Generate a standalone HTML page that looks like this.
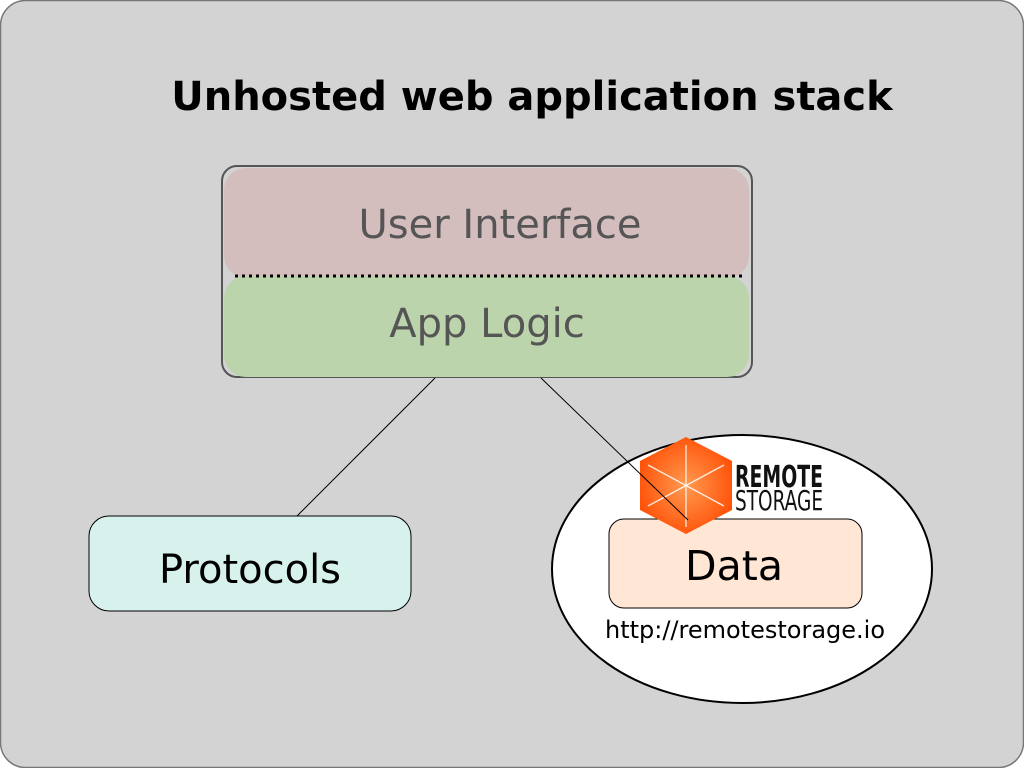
<!DOCTYPE html>
<html><head><style>html,body{margin:0;padding:0;background:#fff}svg{display:block}</style></head><body>
<svg width="1024" height="768" viewBox="0 0 1024 768" xmlns="http://www.w3.org/2000/svg" font-family="'DejaVu Sans','Liberation Sans',sans-serif">
<defs><radialGradient id="g" cx="0.5" cy="0.5" r="0.6"><stop offset="0" stop-color="#ff9a50"/><stop offset="1" stop-color="#ff4a00"/></radialGradient></defs>
<rect x="0.5" y="0.5" width="1023" height="767" rx="25" fill="#d3d3d3" stroke="#777" stroke-width="1.5"/>
<text x="532" y="110" font-size="40" font-weight="bold" text-anchor="middle" fill="#000">Unhosted web application stack</text>
<rect x="222" y="166" width="530" height="211" rx="15" fill="none" stroke="#555" stroke-width="2"/>
<rect x="224" y="168" width="525" height="110" rx="22" fill="#d4bdbd"/>
<rect x="224" y="276" width="525" height="101" rx="22" fill="#bcd4ac"/>
<line x1="235" y1="276" x2="745" y2="276" stroke="#000" stroke-width="3" stroke-dasharray="3,4"/>
<text x="500" y="238" font-size="40" text-anchor="middle" fill="#555">User Interface</text>
<text x="487" y="337" font-size="40" text-anchor="middle" fill="#555">App Logic</text>
<line x1="435" y1="378" x2="297" y2="516" stroke="#000" stroke-width="1"/>
<rect x="89" y="516" width="322" height="95" rx="20" fill="#d7f2ec" stroke="#000" stroke-width="1"/>
<text x="250" y="583" font-size="40" text-anchor="middle" fill="#000">Protocols</text>
<ellipse cx="742" cy="569" rx="190" ry="134" fill="#fff" stroke="#000" stroke-width="2"/>
<rect x="609" y="519" width="253" height="89" rx="15" fill="#ffe6d5" stroke="#000" stroke-width="1"/>
<text x="734" y="580" font-size="41" text-anchor="middle" fill="#000">Data</text>
<text x="745" y="638" font-size="24" text-anchor="middle" fill="#000">http://remotestorage.io</text>
<polygon points="686,437 732,461 732,510 686,534 640,510 640,461" fill="url(#g)"/>
<g stroke="#fff" stroke-width="1.3" opacity="0.85"><line x1="686" y1="445" x2="686" y2="527"/><line x1="648" y1="465" x2="724" y2="506"/><line x1="648" y1="506" x2="724" y2="465"/></g>
<line x1="541" y1="378" x2="688" y2="520" stroke="#000" stroke-width="1"/>
<text x="735" y="487" font-size="30" font-weight="bold" fill="#111" textLength="88" lengthAdjust="spacingAndGlyphs">REMOTE</text>
<text x="735" y="510" font-size="28" fill="#111" textLength="88" lengthAdjust="spacingAndGlyphs">STORAGE</text>
</svg>
</body></html>
